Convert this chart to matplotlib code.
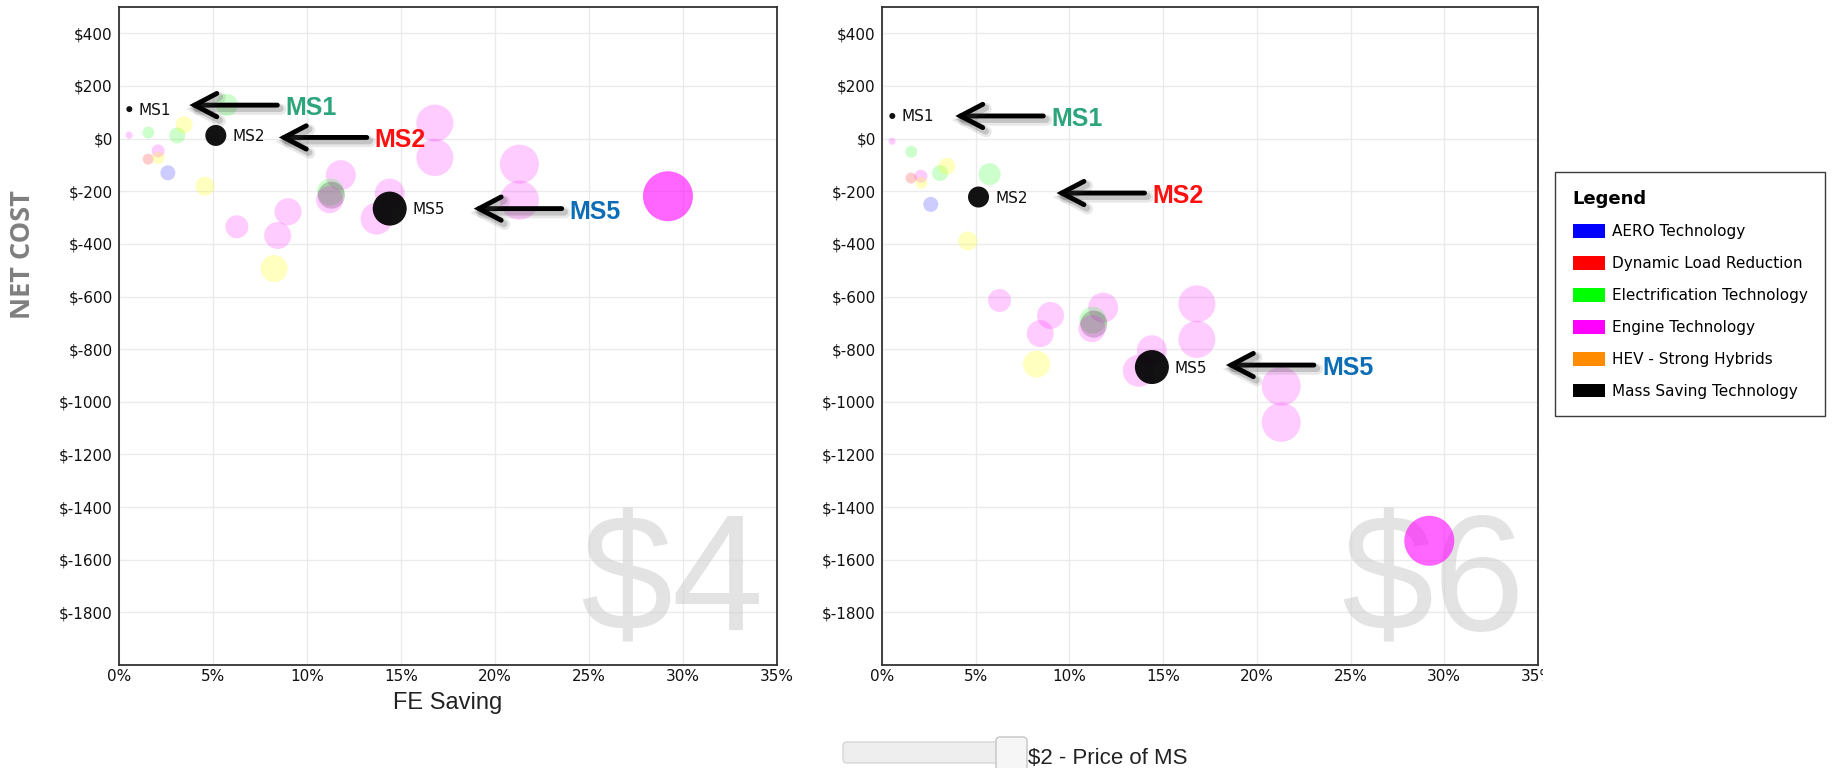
import matplotlib
matplotlib.use("Agg")
import matplotlib.pyplot as plt
from matplotlib import font_manager, patheffects
from matplotlib.colors import to_rgba
from matplotlib.patches import Patch, FancyBboxPatch
from matplotlib.transforms import Affine2D, IdentityTransform, Bbox, TransformedBbox

plt.rcParams['text.parse_math'] = False
plt.rcParams['font.family'] = ['DejaVu Sans']

# ---------------- data ----------------
categories = ['AERO Technology', 'Dynamic Load Reduction', 'Electrification Technology',
              'Engine Technology', 'HEV - Strong Hybrids', 'Mass Saving Technology']
legend_colors = ['#0000ff', '#ff0000', '#00ff00', '#ff00ff', '#ff8c00', '#000000']
bubble_colors = ['#0000ff', '#ff0000', '#00ff00', '#ff00ff', '#ffff00', '#000000']

# one entry per technology package
fe_saving = [0.55, 0.54, 1.56, 3.1, 3.46, 5.74, 5.15, 2.08, 1.55, 2.1, 2.6, 4.58,
             6.27, 8.99, 8.44, 8.25, 11.8, 11.25, 11.3, 11.2, 14.4, 13.7, 14.4,
             16.8, 16.8, 21.3, 21.3, 29.2]
bubble_size = [6, 7, 12, 16, 17, 22, 21, 13, 11, 12, 15, 19,
               23, 27, 27, 27, 30, 27, 27, 27, 30, 32, 34,
               37, 37, 39, 39, 50]
tech_category = [5, 3, 2, 2, 4, 2, 5, 3, 1, 4, 0, 4,
                 3, 3, 3, 4, 3, 2, 5, 3, 3, 3, 5,
                 3, 3, 3, 3, 3]
net_cost_4 = [112, 13, 23, 12, 53, 128, 12, -47, -78, -73, -130, -181,
              -335, -278, -368, -494, -139, -203, -215, -232, -209, -304, -266,
              59, -72, -97, -234, -219]
net_cost_6 = [86, -10, -50, -131, -105, -135, -222, -143, -150, -168, -250, -389,
              -615, -672, -741, -857, -642, -690, -705, -722, -804, -882, -868,
              -628, -763, -941, -1078, -1528]
point_label = ['MS1', '', '', '', '', '', 'MS2', '', '', '', '', '',
               '', '', '', '', '', '', '', '', '', '', 'MS5',
               '', '', '', '', '']
emphasis = ['selected', '', '', '', '', '', 'selected', '', '', '', '', '',
            '', '', '', '', '', '', '', '', '', '', 'selected',
            '', '', '', '', 'best']

fuel_prices = ['$4', '$6']
x_ticks = [0, 5, 10, 15, 20, 25, 30, 35]
y_ticks = [400, 200, 0, -200, -400, -600, -800, -1000, -1200, -1400, -1600, -1800]
ms_price_label = '$2 - Price of MS'

# callouts: (text, colour, tip offset from point in px, vertical offset in px)
callouts_4 = [('MS1', '#2ca57a', 60, 4), ('MS2', '#ff1010', 63, -2), ('MS5', '#0b6db5', 84, 0)]
callouts_6 = [('MS1', '#2ca57a', 63, 0), ('MS2', '#ff1010', 78, 4), ('MS5', '#0b6db5', 74, 2)]


def first_font(names):
    for n in names:
        try:
            font_manager.findfont(n, fallback_to_default=False)
            return n
        except ValueError:
            continue
    return 'DejaVu Sans'


narrow = first_font(['Liberation Sans Narrow', 'Liberation Sans'])
callout_size = 21 if narrow == 'Liberation Sans Narrow' else 18

W, H = 1837, 768
fig = plt.figure(figsize=(W / 100, H / 100), dpi=100)
fig.patch.set_facecolor('white')


def px_axes(x0, x1, y0, y1):
    return fig.add_axes([x0 / W, 1 - y1 / H, (x1 - x0) / W, (y1 - y0) / H])


ax4 = px_axes(119, 777, 7, 665)
ax6 = px_axes(882, 1538, 7, 665)

alpha_for = {'': 0.2, 'best': 0.6, 'selected': 0.93}
order = sorted(range(len(fe_saving)), key=lambda i: ['', 'best', 'selected'].index(emphasis[i]))

arrow_shadow = [
    patheffects.SimpleLineShadow(offset=(2.5, -3.0), shadow_color='#444444', alpha=0.12, linewidth=8),
    patheffects.SimpleLineShadow(offset=(2.0, -2.5), shadow_color='#444444', alpha=0.22, linewidth=5),
    patheffects.Normal(),
]


def draw_panel(ax, costs, price, callouts):
    ax.set_xlim(0, 35)
    ax.set_ylim(-2000, 500)
    ax.set_xticks(x_ticks)
    ax.set_xticklabels([f'{v}%' for v in x_ticks])
    ax.set_yticks(y_ticks)
    ax.set_yticklabels([f'${v}' for v in y_ticks])
    ax.grid(True, color='#ebebeb', lw=1.0)
    ax.set_axisbelow(True)
    ax.tick_params(axis='both', length=0, labelsize=11, colors='#111111')
    ax.tick_params(axis='x', pad=3)
    ax.tick_params(axis='y', pad=4.5)
    for sp in ax.spines.values():
        sp.set_color('#333333')
        sp.set_linewidth(1.3)

    ax.text(0.98, 0.0, price, transform=ax.transAxes, ha='right', va='bottom',
            fontsize=119, family='Liberation Sans', color='#cccccc', alpha=0.55, zorder=0.8)

    xs = [fe_saving[i] for i in order]
    ys = [costs[i] for i in order]
    ss = [(0.72 * bubble_size[i]) ** 2 for i in order]
    cs = []
    for i in order:
        a = alpha_for[emphasis[i]]
        if emphasis[i] == '' and tech_category[i] == 4:
            a = 0.25
        cs.append(to_rgba(bubble_colors[tech_category[i]], a))
    ax.scatter(xs, ys, s=ss, c=cs, linewidths=0, zorder=2)

    for i, lab in enumerate(point_label):
        if lab:
            r = bubble_size[i] / 2
            ax.annotate(lab, xy=(fe_saving[i], costs[i]), xytext=(r + 6, -5.5),
                        textcoords='offset pixels', va='baseline', ha='left',
                        fontsize=11, color='#111111', zorder=4)

    labelled = {lab: i for i, lab in enumerate(point_label) if lab}
    for text, col, dx, dy in callouts:
        i = labelled[text]
        xy = (fe_saving[i], costs[i])
        tip = ax.transData + Affine2D().translate(dx, dy)
        tail = ax.transData + Affine2D().translate(dx + 88, dy)
        ax.annotate('', xy=xy, xycoords=tip, xytext=xy, textcoords=tail,
                    arrowprops=dict(arrowstyle='->,head_length=0.8,head_width=0.42',
                                    mutation_scale=20, lw=3.5, color='black',
                                    joinstyle='miter', shrinkA=0, shrinkB=0,
                                    path_effects=arrow_shadow),
                    zorder=5)
        ax.annotate(text, xy=xy, xytext=(dx + 96, dy - 10), textcoords='offset pixels',
                    ha='left', va='baseline', fontsize=callout_size, fontweight='bold',
                    family=narrow, color=col, zorder=5)


draw_panel(ax4, net_cost_4, fuel_prices[0], callouts_4)
draw_panel(ax6, net_cost_6, fuel_prices[1], callouts_6)

ax4.set_xlabel('FE Saving', fontsize=17, family='Liberation Sans', color='#222222', labelpad=6)
fig.text(23 / W, 1 - 255 / H, 'NET COST', rotation=90, ha='center', va='center',
         fontsize=19.5, fontweight='bold', family=first_font(['Open Sans', 'Liberation Sans']),
         color='#7f7f7f')

# the last x tick label of the right panel is cut at the panel's border
clip = TransformedBbox(Bbox([[0, 0], [1543 / W, 1]]), fig.transFigure)
last = ax6.xaxis.get_major_ticks()[-1].label1
last.set_clip_on(True)
last.set_clip_box(clip)

# legend
handles = [Patch(facecolor=c, edgecolor='none') for c in legend_colors]
leg = fig.legend(handles, categories, loc='upper left', bbox_to_anchor=(1555 / W, 1 - 172 / H),
                 borderaxespad=0, fontsize=11, title='Legend',
                 title_fontproperties={'weight': 'bold', 'size': 13}, alignment='left',
                 handlelength=2.15, handleheight=1.0, handletextpad=0.4, labelspacing=1.1,
                 borderpad=1.15, fancybox=False, framealpha=1)
leg.get_frame().set_edgecolor('#3c3c3c')
leg.get_frame().set_linewidth(1.0)

# price slider under the panels
track = FancyBboxPatch((843, H - 763), 165, 21, boxstyle='round,pad=0,rounding_size=4',
                       transform=IdentityTransform(), facecolor='#eeeeee', edgecolor='#d6d6d6', lw=1)
knob = FancyBboxPatch((996, H - 772), 31, 35, boxstyle='round,pad=0,rounding_size=4',
                      transform=IdentityTransform(), facecolor='#f6f6f6', edgecolor='#c5c5c5', lw=1)
fig.add_artist(track)
fig.add_artist(knob)
fig.text(1028 / W, 1 - 764 / H, ms_price_label, ha='left', va='baseline', fontsize=16,
         family='Liberation Sans', color='#222222')

fig.savefig('out.png', dpi=100, facecolor='white')
